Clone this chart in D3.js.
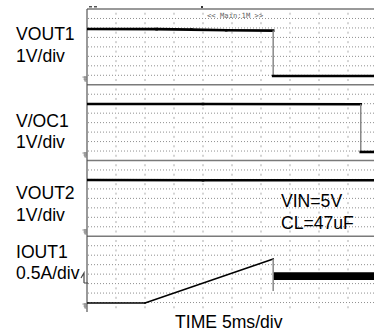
<!DOCTYPE html>
<html><head><meta charset="utf-8">
<script src="https://cdn.jsdelivr.net/npm/d3@7"></script>
<style>html,body{margin:0;padding:0;background:#fff;}svg{display:block;}</style>
</head><body>
<svg id="c" width="374" height="334"></svg>
<script>
// ---- data (time in ms, 5 ms/div) ----
const channelNames = ["VOUT1", "V/OC1", "VOUT2", "IOUT1"];
const channelScales = ["1V/div", "1V/div", "1V/div", "0.5A/div"];
const unitsPerDiv = [1, 1, 1, 0.5];
const vout1 = [[0, 5.28], [12, 5.27], [18, 5.22], [24, 5.16], [32.1, 5.12], [32.1, 0.32], [50, 0.32]];
const voc1 = [[0, 5.39], [20, 5.38], [47.2, 5.36], [47.2, 0.32], [50, 0.32]];
const vout2 = [[0, 5.49], [20, 5.47], [50, 5.47]];
const iout1 = [[0, 0.16], [10, 0.16], [32.1, 2.48], [32.1, 0.79]];
const iout1BandLow = [[32.1, 1.37], [50, 1.37]];
const iout1BandHigh = [[32.1, 1.79], [50, 1.79]];
const traces = [vout1, voc1, vout2, iout1];
const timeLabel = "TIME 5ms/div";
const noteLines = ["VIN=5V", "CL=47uF"];
const headerText = "<< Main:1M >>";

// ---- layout ----
const svg = d3.select("#c");
const x0 = 87, divW = 29, screenTop = 9, panelH = 75.75, subDivs = 8;
const divPx = panelH / subDivs;
const groundOffsets = [0.6, 0.58, 0.45, 0.63];
const x = d3.scaleLinear().domain([0, 50]).range([x0, x0 + 10 * divW]);

const panels = channelNames.map((n, i) => {
  const top = screenTop + i * panelH;
  const bottom = top + panelH;
  const g = bottom - groundOffsets[i] * divPx;
  const y = d3.scaleLinear().domain([0, unitsPerDiv[i] * subDivs]).range([g, g - subDivs * divPx]);
  return {top, bottom, ground: g, y};
});

const grid = svg.append("g");
panels.forEach(p => {
  d3.range(1, subDivs).forEach(k => {
    grid.append("line").attr("x1", x0 + 1).attr("x2", 374)
      .attr("y1", p.top + k * divPx).attr("y2", p.top + k * divPx)
      .attr("stroke", "#8f8f8f").attr("stroke-width", 1).attr("stroke-dasharray", "1,2");
  });
  d3.range(1, 10).forEach(c => {
    const xx = x(c * 5);
    d3.range(0, subDivs).forEach(k => {
      grid.append("rect").attr("x", xx - 0.5).attr("y", p.top + (k + 0.5) * divPx - 1)
        .attr("width", 1).attr("height", 2).attr("fill", "#aaa");
    });
  });
});
panels.slice(1).forEach(p => {
  grid.append("line").attr("x1", x0).attr("x2", 374).attr("y1", p.top).attr("y2", p.top)
    .attr("stroke", "#7a7a7a").attr("stroke-width", 1.5);
});
grid.append("line").attr("x1", x0).attr("x2", 374).attr("y1", screenTop).attr("y2", screenTop)
  .attr("stroke", "#999").attr("stroke-width", 2);
grid.append("line").attr("x1", x0).attr("x2", x0).attr("y1", screenTop).attr("y2", panels[3].bottom)
  .attr("stroke", "#555").attr("stroke-width", 1.2);

svg.append("rect").attr("x", 89).attr("y", 6).attr("width", 3).attr("height", 1.5).attr("fill", "#555");
svg.append("rect").attr("x", 94).attr("y", 6).attr("width", 3).attr("height", 1.5).attr("fill", "#555");
svg.append("rect").attr("x", 201).attr("y", 6).attr("width", 2).attr("height", 2).attr("fill", "#333");
svg.append("text").attr("x", 207).attr("y", 17.5).text(headerText)
  .attr("font-family", "DejaVu Sans Mono, monospace").attr("font-size", 7.2).attr("fill", "#666");

panels.forEach(p => {
  const gy = p.ground;
  svg.append("path").attr("d",
    `M82.5,${gy - 2}H87M83.5,${gy}H87M84.5,${gy + 2}H86.5M85,${gy - 3}V${gy + 2}`)
    .attr("stroke", "#666").attr("stroke-width", 0.8).attr("fill", "none");
});
svg.append("path").attr("d", "M81,278L84,273L84,283M84,283H88")
  .attr("stroke", "#444").attr("stroke-width", 1.2).attr("fill", "none");

const tg = svg.append("g").attr("clip-path", "url(#clipS)");
svg.append("clipPath").attr("id", "clipS").append("rect").attr("x", x0).attr("y", 0).attr("width", 374 - x0).attr("height", 334);

const p4 = panels[3];
const band = iout1BandLow.map((d, i) => ({t: d[0], lo: d[1], hi: iout1BandHigh[i][1]}));
tg.append("path").datum(band)
  .attr("d", d3.area().x(d => x(d.t)).y0(d => p4.y(d.lo)).y1(d => p4.y(d.hi)))
  .attr("fill", "#000");

traces.forEach((pts, i) => {
  const p = panels[i];
  for (let k = 1; k < pts.length; k++) {
    const a = pts[k - 1], b = pts[k];
    const vertical = a[0] === b[0];
    tg.append("line")
      .attr("x1", x(a[0])).attr("y1", p.y(a[1])).attr("x2", x(b[0])).attr("y2", p.y(b[1]))
      .attr("stroke", vertical ? "#888" : "#000")
      .attr("stroke-width", vertical ? 1.5 : (i === 3 ? 1.6 : 2.6))
      .attr("stroke-linecap", vertical ? "butt" : "square");
  }
});

const font = "Liberation Sans, Arial, Helvetica, sans-serif";
const fs = 17.6;
const labelPos = [[40, 62], [127, 148], [199, 221], [258, 279]];
channelNames.forEach((n, i) => {
  svg.append("text").attr("x", 16).attr("y", labelPos[i][0]).text(n)
    .attr("font-family", font).attr("font-size", fs).attr("fill", "#000");
  svg.append("text").attr("x", 16).attr("y", labelPos[i][1]).text(channelScales[i])
    .attr("font-family", font).attr("font-size", fs).attr("fill", "#000");
});
noteLines.forEach((t, i) => {
  svg.append("text").attr("x", 281).attr("y", 207 + i * 22).text(t)
    .attr("font-family", font).attr("font-size", fs).attr("fill", "#000");
});
svg.append("text").attr("x", 175).attr("y", 328).text(timeLabel)
  .attr("font-family", font).attr("font-size", fs).attr("fill", "#000");
</script>
</body></html>
